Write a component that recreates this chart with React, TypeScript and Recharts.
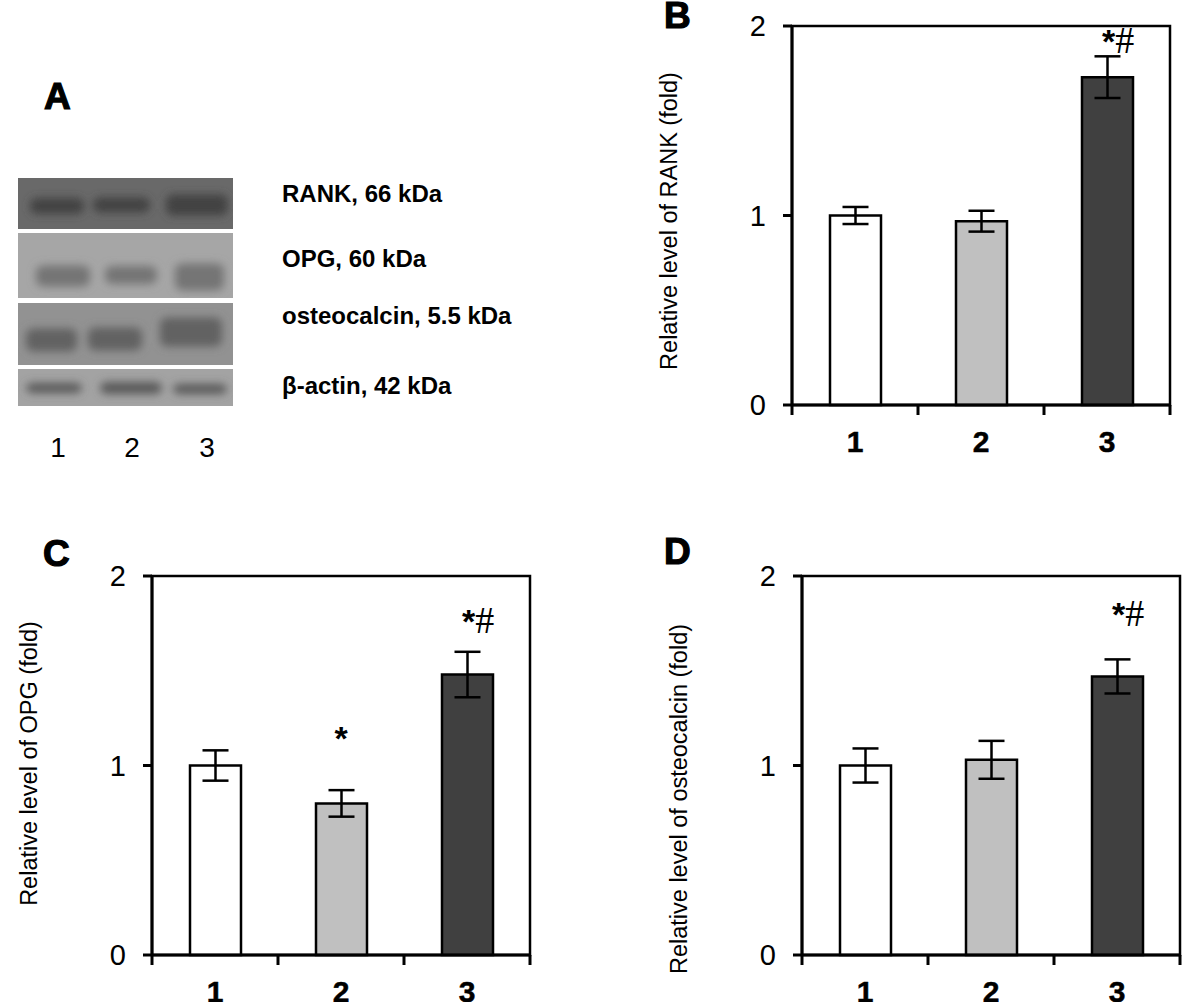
import React from 'react'
import { Bar, Cell, ComposedChart, ErrorBar, ReferenceArea, Scatter, XAxis, YAxis } from 'recharts'

const FONT = "'Liberation Sans', Arial, Helvetica, sans-serif"
const SERIF = "'Liberation Serif', 'Times New Roman', serif"

// groups and bar fills
const groups = ['1', '2', '3']
const fills = ['#ffffff', '#c0c0c0', '#404040']
const yTicks = [0, 1, 2]

// B: RANK
const rankLevel = [1.0, 0.97, 1.73]
const rankErr = [0.045, 0.055, 0.11]
const rankNotes = ['', '', '*#']
const rankNoteAt = [null, null, 1.86]

// C: OPG
const opgLevel = [1.0, 0.8, 1.48]
const opgErr = [0.08, 0.07, 0.12]
const opgNotes = ['', '*', '*#']
const opgNoteAt = [null, 1.08, 1.7]

// D: osteocalcin
const ocnLevel = [1.0, 1.03, 1.47]
const ocnErr = [0.09, 0.1, 0.09]
const ocnNotes = ['', '', '*#']
const ocnNoteAt = [null, null, 1.735]

// A: blot
const blotLabels = ['RANK, 66 kDa', 'OPG, 60 kDa', 'osteocalcin, 5.5 kDa', 'β-actin, 42 kDa']
const laneLabels = ['1', '2', '3']

const PLOT_W = 378

const blotStrips = [
  { y: 178, h: 51, bg: '#696969', band: '#424242', bands: [[30, 84, 206, 16], [93, 150, 205, 15], [166, 228, 205, 21]], labelY: 201.5 },
  { y: 233, h: 65, bg: '#a6a6a6', band: '#747474', bands: [[36, 90, 276, 21], [105, 157, 275, 18], [175, 224, 277, 27]], labelY: 267 },
  { y: 303, h: 62, bg: '#929292', band: '#626262', bands: [[26, 77, 340, 23], [88, 142, 339, 23], [160, 222, 332, 29]], labelY: 323.5 },
  { y: 369, h: 37, bg: '#a3a3a3', band: '#595959', bands: [[26, 82, 388, 10], [100, 162, 388, 12], [173, 227, 389, 10]], labelY: 393.5 },
]
const laneX = [58, 132, 207]

const EdgeTick = (props: any) => {
  const { x, y, payload, index, visibleTicksCount, width } = props
  const band = (width || PLOT_W) / (visibleTicksCount || 3)
  const top = y - 10
  return (
    <g>
      {index === 0 && <line x1={x - band / 2} x2={x - band / 2} y1={top} y2={y} stroke="#000" strokeWidth={3} />}
      <line x1={x + band / 2} x2={x + band / 2} y1={top} y2={y} stroke="#000" strokeWidth={3} />
      <text x={x} y={y + 37} textAnchor="middle" fontSize={30} fontWeight="bold" fontFamily={FONT} fill="#000" stroke="#000" strokeWidth={0.5}>
        {payload.value}
      </text>
    </g>
  )
}

const AxisTitle = (props: any) => {
  const vb = props.viewBox || { x: 0, y: 26, width: 152, height: 379 }
  const x = vb.x + vb.width - 115
  const y = vb.y + vb.height / 2 + (props.shift || 0)
  return (
    <text x={x} y={y} transform={`rotate(-90 ${x} ${y})`} textAnchor="middle" fontSize={23.5} fontFamily={FONT} fill="#000">
      {props.text}
    </text>
  )
}

const NoteMark = (props: any) => {
  const { cx, cy, payload } = props
  if (!payload || !payload.note || cy == null || isNaN(cy)) return null
  const two = payload.note.length > 1
  return (
    <text x={two ? cx - 5 : cx} y={cy} textAnchor={two ? 'start' : 'middle'} fontSize={34} fill="#000">
      <tspan fontFamily={FONT} fontWeight="bold">*</tspan>
      {two && <tspan fontFamily={SERIF} fontSize={38}>#</tspan>}
    </text>
  )
}

interface PanelProps {
  left: number
  top: number
  levels: number[]
  errs: number[]
  notes: string[]
  noteAt: (number | null)[]
  title: string
  shift: number
}

const Panel: React.FC<PanelProps> = ({ left, top, levels, errs, notes, noteAt, title, shift }) => {
  const data = groups.map((name, i) => ({ name, level: levels[i], err: errs[i], note: notes[i], noteAt: noteAt[i] }))
  return (
    <div style={{ position: 'absolute', left, top }}>
      <ComposedChart width={542} height={470} data={data} margin={{ top: 26, right: 12, bottom: 5, left: 0 }}>
        <XAxis
          xAxisId="x"
          dataKey="name"
          interval={0}
          height={60}
          tickSize={10}
          tickMargin={0}
          tickLine={false}
          axisLine={{ stroke: '#000', strokeWidth: 3 }}
          tick={(p: any) => <EdgeTick {...p} />}
        />
        <YAxis
          yAxisId="y"
          domain={[0, 2]}
          ticks={yTicks}
          width={152}
          tickSize={9}
          tickMargin={17}
          axisLine={{ stroke: '#000', strokeWidth: 3 }}
          tickLine={{ stroke: '#000', strokeWidth: 3 }}
          tick={{ fontSize: 29, fill: '#000', fontFamily: FONT }}
          label={<AxisTitle text={title} shift={shift} />}
        />
        <ReferenceArea xAxisId="x" yAxisId="y" x1="1" x2="3" y1={0} y2={2} fill="none" stroke="#000" strokeWidth={2.5} ifOverflow="visible" />
        <Bar xAxisId="x" yAxisId="y" dataKey="level" barSize={51} stroke="#000" strokeWidth={2.5} isAnimationActive={false}>
          {data.map((d, i) => (
            <Cell key={d.name} fill={fills[i]} />
          ))}
          <ErrorBar dataKey="err" width={13} stroke="#000" strokeWidth={2.5} isAnimationActive={false} />
        </Bar>
        <Scatter xAxisId="x" yAxisId="y" dataKey="noteAt" shape={NoteMark} isAnimationActive={false} />
      </ComposedChart>
    </div>
  )
}

const Letter = ({ x, y, ch }: { x: number; y: number; ch: string }) => (
  <text x={x} y={y} fontSize={37} fontWeight="bold" fontFamily={FONT} fill="#000" stroke="#000" strokeWidth={1.2}>
    {ch}
  </text>
)

const Blot = () => (
  <svg width={1182} height={1002} style={{ position: 'absolute', left: 0, top: 0 }}>
    <defs>
      <filter id="soft" x="-20%" y="-80%" width="140%" height="260%">
        <feGaussianBlur stdDeviation="4" />
      </filter>
      <clipPath id="blotClip">
        {blotStrips.map((s, i) => (
          <rect key={i} x={18} y={s.y} width={215} height={s.h} />
        ))}
      </clipPath>
    </defs>
    {blotStrips.map((s, i) => (
      <rect key={i} x={18} y={s.y} width={215} height={s.h} fill={s.bg} />
    ))}
    <g clipPath="url(#blotClip)">
      <g filter="url(#soft)">
        {blotStrips.map((s, i) =>
          s.bands.map(([x1, x2, cy, t], j) => (
            <rect key={`${i}-${j}`} x={x1} y={cy - t / 2} width={x2 - x1} height={t} rx={7} fill={s.band} />
          ))
        )}
      </g>
    </g>
    {blotStrips.map((s, i) => (
      <text key={i} x={282} y={s.labelY} fontSize={24} fontWeight="bold" fontFamily={FONT} fill="#000">
        {blotLabels[i]}
      </text>
    ))}
    {laneLabels.map((l, i) => (
      <text key={l} x={laneX[i]} y={456.7} textAnchor="middle" fontSize={28} fontFamily={FONT} fill="#000">
        {l}
      </text>
    ))}
    <Letter x={44} y={109} ch="A" />
    <Letter x={664} y={28} ch="B" />
    <Letter x={43} y={566} ch="C" />
    <Letter x={664} y={564} ch="D" />
  </svg>
)

export default function App() {
  return (
    <div style={{ position: 'absolute', left: 0, top: 0, width: 1182, height: 1002, overflow: 'hidden', background: '#fff' }}>
      <Blot />
      <Panel left={640} top={0} levels={rankLevel} errs={rankErr} notes={rankNotes} noteAt={rankNoteAt} title="Relative level of RANK (fold)" shift={5.5} />
      <Panel left={0} top={550} levels={opgLevel} errs={opgErr} notes={opgNotes} noteAt={opgNoteAt} title="Relative level of OPG (fold)" shift={-2} />
      <Panel left={650} top={550} levels={ocnLevel} errs={ocnErr} notes={ocnNotes} noteAt={ocnNoteAt} title="Relative level of osteocalcin (fold)" shift={33.5} />
    </div>
  )
}
